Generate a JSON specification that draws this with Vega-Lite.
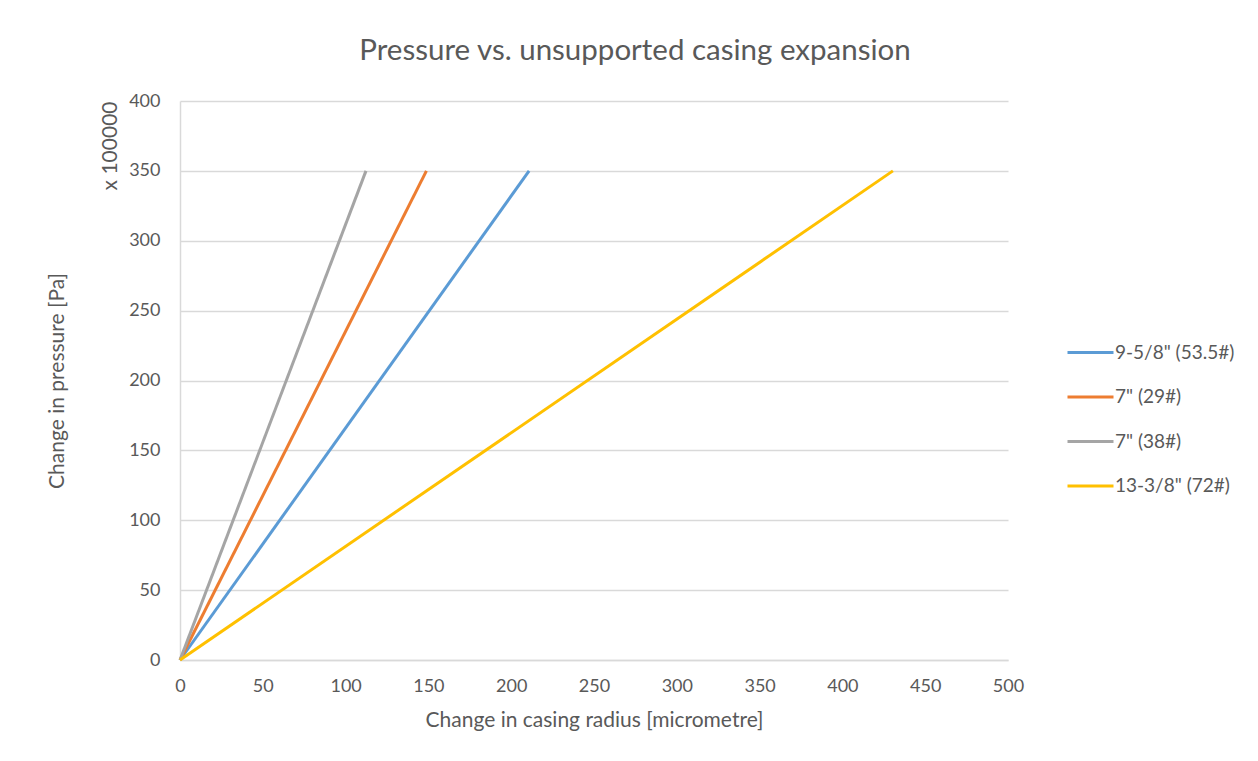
{
  "$schema": "https://vega.github.io/schema/vega-lite/v6.json",
  "autosize": {"type": "none"},
  "width": 828,
  "height": 559,
  "padding": {"left": 180, "top": 101, "right": 250, "bottom": 101},
  "background": "white",
  "title": {
    "text": "Pressure vs. unsupported casing expansion",
    "font": "Lato",
    "fontSize": 29.5,
    "fontWeight": "normal",
    "color": "#595959",
    "anchor": "middle",
    "frame": "group",
    "dx": 41,
    "offset": 26
  },
  "config": {
    "view": {"stroke": null},
    "font": "Lato"
  },
  "data": {
    "values": [
      {"series": "9-5/8\" (53.5#)", "radius": 0, "pressure": 0},
      {"series": "9-5/8\" (53.5#)", "radius": 210.8, "pressure": 350},
      {"series": "7\" (29#)", "radius": 0, "pressure": 0},
      {"series": "7\" (29#)", "radius": 148.8, "pressure": 350},
      {"series": "7\" (38#)", "radius": 0, "pressure": 0},
      {"series": "7\" (38#)", "radius": 112.3, "pressure": 350},
      {"series": "13-3/8\" (72#)", "radius": 0, "pressure": 0},
      {"series": "13-3/8\" (72#)", "radius": 430.5, "pressure": 350}
    ]
  },
  "resolve": {"axis": {"y": "independent"}},
  "layer": [
    {
      "mark": {"type": "line", "strokeWidth": 3},
      "encoding": {
        "x": {
          "field": "radius", "type": "quantitative",
          "scale": {"domain": [0, 500], "nice": false},
          "axis": {
            "values": [0, 50, 100, 150, 200, 250, 300, 350, 400, 450, 500],
            "title": "Change in casing radius [micrometre]",
            "titleFont": "Lato", "titleFontSize": 21, "titleFontWeight": "normal", "titleColor": "#595959",
            "titlePadding": 14,
            "labelFont": "Lato", "labelFontSize": 18, "labelColor": "#595959",
            "labelPadding": 17, "ticks": false, "labelFlush": false,
            "grid": false, "domainColor": "#D9D9D9", "domainWidth": 1.5
          }
        },
        "y": {
          "field": "pressure", "type": "quantitative",
          "scale": {"domain": [0, 400], "nice": false},
          "axis": {
            "values": [0, 50, 100, 150, 200, 250, 300, 350, 400],
            "title": "x 100000",
            "titleAnchor": "end",
            "titleFont": "Lato", "titleFontSize": 21, "titleFontWeight": "normal", "titleColor": "#595959",
            "titlePadding": 8,
            "labelFont": "Lato", "labelFontSize": 18, "labelColor": "#595959",
            "labelPadding": 20, "ticks": false, "labelFlush": false,
            "grid": true, "gridColor": "#D9D9D9", "gridWidth": 1.5,
            "domainColor": "#D9D9D9", "domainWidth": 1.5
          }
        },
        "color": {
          "field": "series", "type": "nominal",
          "sort": ["9-5/8\" (53.5#)", "7\" (29#)", "7\" (38#)", "13-3/8\" (72#)"],
          "scale": {
            "domain": ["9-5/8\" (53.5#)", "7\" (29#)", "7\" (38#)", "13-3/8\" (72#)"],
            "range": ["#5B9BD5", "#ED7D31", "#A5A5A5", "#FFC000"]
          },
          "legend": {
            "title": null,
            "orient": "none",
            "legendX": 886,
            "legendY": 227,
            "symbolType": "stroke",
            "symbolSize": 2116,
            "symbolStrokeWidth": 3,
            "labelFont": "Lato", "labelFontSize": 19, "labelColor": "#595959",
            "labelOffset": 0,
            "rowPadding": 9.5
          }
        }
      }
    },
    {
      "mark": {"type": "line", "strokeOpacity": 0},
      "encoding": {
        "x": {"field": "radius", "type": "quantitative"},
        "y": {
          "field": "pressure", "type": "quantitative",
          "axis": {
            "orient": "left",
            "offset": 113,
            "title": "Change in pressure [Pa]",
            "titleFont": "Lato", "titleFontSize": 21, "titleFontWeight": "normal", "titleColor": "#595959",
            "labels": false, "ticks": false, "domain": false, "grid": false,
            "titlePadding": 0
          }
        },
        "detail": {"field": "series", "type": "nominal"}
      }
    }
  ]
}
